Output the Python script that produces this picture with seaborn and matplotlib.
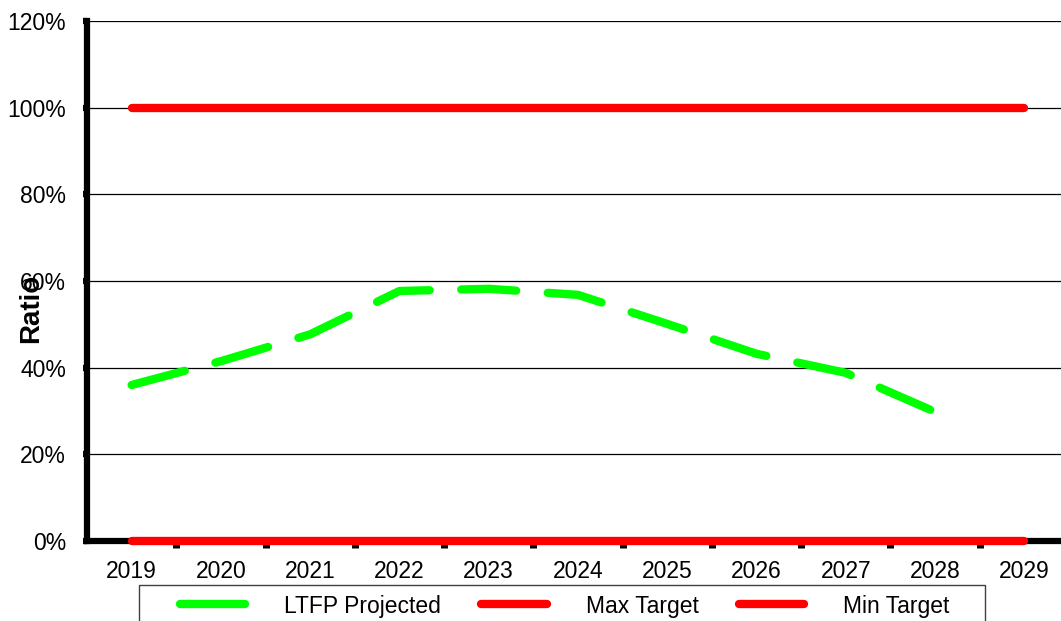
import matplotlib
matplotlib.use("Agg")
import matplotlib.pyplot as plt
from matplotlib.patches import Rectangle
import seaborn as sns
import pandas as pd
import numpy as np

# Data
years = ["2019", "2020", "2021", "2022", "2023", "2024", "2025", "2026", "2027", "2028", "2029"]
ltfp_projected = [36.0, 41.5, 47.7, 57.7, 58.2, 56.8, 50.1, 43.2, 38.8, 29.8, None]
max_target = [100] * 11
min_target = [0] * 11
y_ticks = [0, 20, 40, 60, 80, 100, 120]

df = pd.DataFrame({
    "Year": years,
    "LTFP Projected": ltfp_projected,
    "Max Target": max_target,
    "Min Target": min_target,
})
df["pos"] = np.arange(len(years))

sns.set_theme(style="white")
plt.rcParams["font.family"] = ["Liberation Sans", "DejaVu Sans"]

FS = 16.5
W, H = 1061, 621
fig = plt.figure(figsize=(W / 100, H / 100), dpi=100)
ax = fig.add_axes([87 / W, 80 / H, 982 / W, 520 / H])

# Thin horizontal gridlines
for v in y_ticks[1:]:
    ax.axhline(v, color="black", lw=0.9, zorder=1)

lw = 6
sns.lineplot(data=df, x="pos", y="LTFP Projected", ax=ax, color="#00ff00",
             lw=lw, label="LTFP Projected", zorder=4)
green = ax.lines[-1]
green.set_dashes((6.6, 3.8))
green.set_dash_capstyle("round")

sns.lineplot(data=df, x="pos", y="Max Target", ax=ax, color="#ff0000",
             lw=lw, label="Max Target", zorder=4)
sns.lineplot(data=df, x="pos", y="Min Target", ax=ax, color="#ff0000",
             lw=lw, label="Min Target", zorder=5)
for ln in ax.lines[-2:]:
    ln.set_solid_capstyle("round")
    ln.set_clip_on(False)

ax.set_xlim(-0.5, len(years) - 0.5)
ax.set_ylim(0, 120)

ax.set_yticks(y_ticks)
ax.set_yticklabels([f"{v}%" for v in y_ticks])
ax.set_xticks(df["pos"])
ax.set_xticklabels(years)
ax.set_xticks(np.arange(0.5, len(years) - 0.5, 1.0), minor=True)

ax.tick_params(axis="y", which="major", left=True, length=3, width=4.5,
               color="black", labelsize=FS, pad=12, labelcolor="black")
ax.tick_params(axis="x", which="major", bottom=False, length=0,
               labelsize=FS, pad=14, labelcolor="black")
ax.tick_params(axis="x", which="minor", bottom=True, length=5, width=5,
               color="black")

for side in ["top", "right"]:
    ax.spines[side].set_visible(False)
for side in ["left", "bottom"]:
    ax.spines[side].set_color("black")
    ax.spines[side].set_linewidth(4.5)
    ax.spines[side].set_zorder(3)

ax.set_xlabel("")
ax.set_ylabel("")
fig.text(31 / W, 1 - 308 / H, "Ratio", rotation=90, ha="center",
         va="center", fontsize=20, fontweight="bold", color="black")

# Legend row with a plain rectangular frame behind it
leg = ax.legend(loc="center left", bbox_to_anchor=(180 / W, 1 - 606 / H),
                bbox_transform=fig.transFigure, ncol=3, frameon=False,
                fontsize=FS, handlelength=2.85, handletextpad=1.7,
                columnspacing=1.75, borderpad=0, borderaxespad=0)
for h in leg.get_lines():
    h.set_linestyle("-")
    h.set_solid_capstyle("round")
for t in leg.get_texts():
    t.set_color("black")
fig.patches.append(Rectangle((139 / W, -10 / H), 846 / W, 46 / H,
                             transform=fig.transFigure, fill=False,
                             edgecolor="#404040", lw=1.0))

fig.savefig("out.png", dpi=100)
